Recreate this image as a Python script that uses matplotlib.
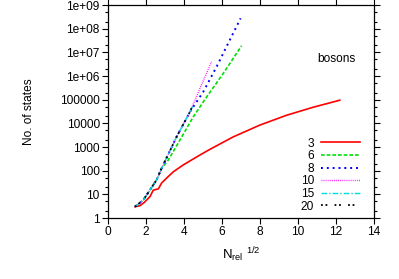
import matplotlib
matplotlib.use("Agg")
import matplotlib.pyplot as plt
from matplotlib.ticker import LogLocator, FixedLocator, NullFormatter

plt.rcParams["font.family"] = ["Liberation Sans", "DejaVu Sans"]
plt.rcParams["mathtext.fontset"] = "custom"
plt.rcParams["mathtext.rm"] = "Liberation Sans"
plt.rcParams["mathtext.it"] = "Liberation Sans:italic"

# Data (x = N_rel^(1/2), y = number of states)
x3 = [1.42, 1.68, 1.90, 2.21, 2.38, 2.65, 2.82, 3.10, 3.44, 3.96, 4.84, 5.45, 6.60, 8.00, 9.40, 10.80, 12.20]
y3 = [3, 3.3, 4.5, 8, 15, 17, 30, 50, 90, 175, 460, 870, 2700, 8500, 22000, 48000, 95000]

x6 = [1.42, 1.86, 2.56, 2.82, 3.17, 3.79, 4.49, 5.19, 6.07, 7.03]
y6 = [3, 5.8, 41, 126, 280, 2000, 19000, 1.3e5, 1.3e6, 1.9e7]

x8 = [1.42, 1.86, 2.56, 2.82, 3.61, 4.32, 5.02, 5.72, 6.30, 6.98]
y8 = [3, 5.8, 41, 126, 2700, 31000, 2.2e5, 2.5e6, 2.2e7, 2.75e8]

x10 = [1.42, 1.86, 2.56, 2.82, 3.61, 4.32, 4.84, 5.45]
y10 = [3, 5.8, 41, 126, 2700, 31000, 3.0e5, 4.0e6]

x15 = [1.42, 1.86, 2.56, 2.82, 3.61, 4.32, 4.45]
y15 = [3, 5.8, 41, 126, 2700, 31000, 52000]

x20 = [1.42, 1.86, 2.56, 2.82, 3.61, 4.32, 4.40]
y20 = [3, 5.8, 41, 126, 2700, 31000, 45000]

labels = ["3", "6", "8", "10", "15", "20"]
ytick_vals = [1, 10, 100, 1000, 10000, 100000, 1e6, 1e7, 1e8, 1e9]
ytick_labels = ["1", "10", "100", "1000", "10000", "100000", "1e+06", "1e+07", "1e+08", "1e+09"]
xticks = [0, 2, 4, 6, 8, 10, 12, 14]

fig = plt.figure(figsize=(3.99, 2.79), dpi=100)
ax = fig.add_axes([0.2707, 0.2186, 0.6666, 0.7634])

series = [(x3, y3), (x6, y6), (x8, y8), (x10, y10), (x15, y15), (x20, y20)]
styles = [
    dict(color="#ff0000", linestyle="-", lw=1.2),
    dict(color="#00e000", linestyle=(0, (2.2, 1.2)), lw=1.2),
    dict(color="#0000ff", linestyle=(0, (1, 2)), lw=1.4),
    dict(color="#ff00ff", linestyle=(0, (0.6, 0.9)), lw=1.0),
    dict(color="#00dddd", linestyle=(0, (4, 1.5, 1, 1.5)), lw=1.0),
    dict(color="#000000", linestyle=(0, (1, 1.5, 1, 4)), lw=1.3),
]

handles = []
for (xs, ys), st in zip(series, styles):
    h, = ax.plot(xs, ys, **st)
    handles.append(h)

ax.set_yscale("log")
ax.set_xlim(0, 14)
ax.set_ylim(1, 1e9)
ax.xaxis.set_major_locator(FixedLocator(xticks))
ax.set_xticklabels([str(v) for v in xticks])
ax.yaxis.set_major_locator(FixedLocator(ytick_vals))
ax.set_yticklabels(ytick_labels)
ax.yaxis.set_minor_locator(LogLocator(base=10, subs=(2, 5), numticks=20))
ax.yaxis.set_minor_formatter(NullFormatter())

ax.tick_params(which="both", direction="out", top=True, right=True, labelsize=8.6,
               width=0.8, pad=2)
ax.tick_params(which="major", length=4)
ax.tick_params(which="minor", length=2.5)
for s in ax.spines.values():
    s.set_linewidth(0.9)

ax.set_ylabel("No. of states", fontsize=8.6, labelpad=18)
ax.set_xlabel(r"N$_{\rm rel}$ $^{1/2}$", fontsize=9.5, labelpad=5)

ax.text(0.86, 0.745, "bosons", transform=ax.transAxes, fontsize=8.6,
        ha="center", va="center")

leg = ax.legend(handles, labels, loc="lower right", fontsize=8.6, frameon=False,
                markerfirst=False, handlelength=3.2, handletextpad=0.6,
                labelspacing=0.05, borderaxespad=0.05,
                bbox_to_anchor=(0.966, 0.0))
for t in leg.get_texts():
    t.set_ha("right")

fig.savefig("out.png", dpi=100)
